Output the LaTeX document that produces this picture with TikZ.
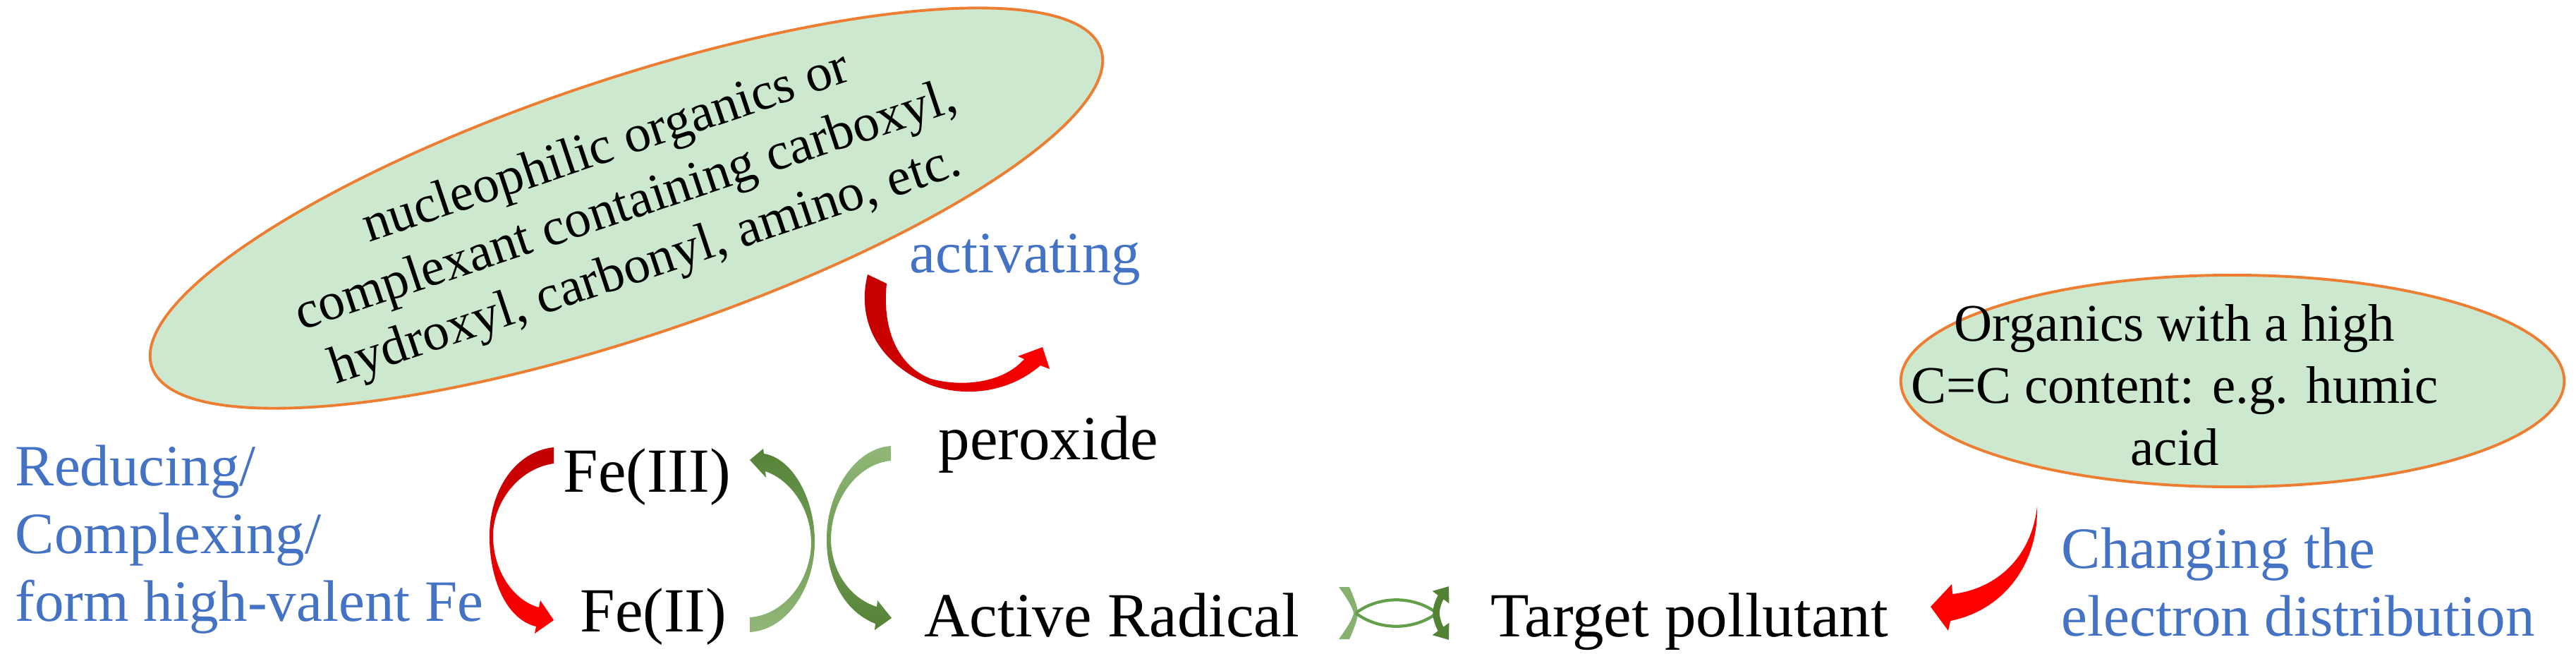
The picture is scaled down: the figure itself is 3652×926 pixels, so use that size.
\documentclass[tikz,border=0pt]{standalone}
\usepackage{fontspec}
\setmainfont{Liberation Serif}
\usetikzlibrary{arrows.meta,shapes.geometric}
\definecolor{ellfill}{RGB}{204,232,207}
\definecolor{ellline}{RGB}{237,125,49}
\definecolor{bluetxt}{RGB}{68,114,196}
\definecolor{darkred}{RGB}{192,0,0}
\definecolor{brightred}{RGB}{255,0,0}
\definecolor{darkgreen}{RGB}{84,130,53}
\definecolor{lightgreen}{RGB}{145,184,120}
\definecolor{midgreen}{RGB}{100,160,75}
\begin{document}
\begin{tikzpicture}[x={(0.01cm,0)}, y={(0,-0.01cm)},
  chem/.style={font=\fontsize{25.3}{30}\selectfont, inner sep=0pt, anchor=base west},
  note/.style={font=\fontsize{23.6}{27.3}\selectfont, text=bluetxt, inner sep=0pt, align=left},
  elltext/.style={font=\fontsize{21.3}{25}\selectfont, inner sep=0pt, align=center},
  bubble/.style={ellipse, fill=ellfill, draw=ellline, line width=1.1pt, inner sep=0pt}]
\useasboundingbox (0,0) rectangle (3652,926);

% big tilted ellipse
\node[bubble, elltext, rotate=18.5, minimum width=14.18cm, minimum height=3.64cm] (nuc) at (888,295)
  {nucleophilic organics or\\complexant containing carboxyl,\\hydroxyl, carbonyl, amino, etc.};

% small ellipse
\node[bubble, minimum width=9.4cm, minimum height=3.0cm] (humicbg) at (3165,540) {};
\node[elltext] (humic) at (3083,546) {Organics with a high\\C=C content: e.g. humic\\acid};

% texts
\node[note, anchor=west] (reduce) at (21,765) {Reducing/\\Complexing/\\form high-valent Fe};
\node[chem] (fe3) at (798,697) {Fe(III)};
\node[chem] (fe2) at (822,895) {Fe(II)};
\node[chem] (perox) at (1330,651) {peroxide};
\node[chem] (rad) at (1310,902) {Active Radical};
\node[chem] (target) at (2113,902) {Target pollutant};
\node[note, anchor=base west] (act) at (1289,386) {activating};
\node[note, anchor=west] (change) at (2922,825) {Changing the\\electron distribution};

% red arrow Fe(III) -> Fe(II)
\shade[top color=darkred, bottom color=brightred]
  (785,634) -- (785,657) .. controls (735,664) and (700,712) .. (699,757)
  .. controls (698,805) and (725,850) .. (764,861) -- (766,851) -- (785,879) -- (758,898) -- (760,888)
  .. controls (715,877) and (693,815) .. (694,757) .. controls (695,695) and (730,640) .. (785,634) -- cycle;

% activating arrow
\shade[left color=darkred, right color=brightred]
  (1230,389) .. controls (1215,450) and (1240,510) .. (1313,543)
  .. controls (1350,560) and (1420,565) .. (1475,518) -- (1488,523) -- (1478,492) -- (1443,505) -- (1452,509)
  .. controls (1420,545) and (1360,548) .. (1320,537) .. controls (1275,520) and (1250,470) .. (1257,402) -- cycle;

% green arrow Fe(II) -> Fe(III)
\shade[top color=darkgreen, bottom color=lightgreen]
  (1063,875) .. controls (1110,872) and (1149,825) .. (1150,770)
  .. controls (1150,720) and (1120,680) .. (1085,668) -- (1086,677) -- (1063,652) -- (1082,636) -- (1083,643)
  .. controls (1125,650) and (1156,710) .. (1155,770) .. controls (1154,835) and (1115,893) .. (1063,896) -- cycle;

% green arrow peroxide -> Active Radical
\shade[top color=lightgreen, bottom color=darkgreen]
  (1263,632) -- (1263,653) .. controls (1218,657) and (1179,705) .. (1178,763)
  .. controls (1178,810) and (1205,848) .. (1243,860) -- (1244,851) -- (1264,876) -- (1240,893) -- (1241,884)
  .. controls (1195,866) and (1171,815) .. (1172,763) .. controls (1172,700) and (1210,636) .. (1263,632) -- cycle;

% green exchange symbol between Active Radical and Target pollutant
\fill[lightgreen!85!darkgreen]
  (1898,832) -- (1913,832) .. controls (1921,850) and (1925,862) .. (1925,869)
  .. controls (1925,876) and (1921,888) .. (1913,906) -- (1898,906)
  .. controls (1911,888) and (1918,876) .. (1919,869) .. controls (1918,862) and (1911,850) .. (1898,832) -- cycle;
\draw[midgreen, line width=1.2pt] (1922,869) .. controls (1955,844) and (2004,844) .. (2037,869);
\draw[midgreen, line width=1.2pt] (1922,869) .. controls (1955,894) and (2004,894) .. (2037,869);
\draw[darkgreen, line width=2.7pt, {Triangle[width=8pt,length=5.5pt]}-{Triangle[width=8pt,length=5.5pt]}]
  (2054,831) .. controls (2040,850) and (2036,862) .. (2036,869) .. controls (2036,876) and (2040,888) .. (2054,907);

% red arrow from humic ellipse to Target pollutant
\fill[brightred]
  (2888,718) .. controls (2880,790) and (2830,835) .. (2768,842) -- (2767,828) -- (2737,860) -- (2762,894) -- (2765,880)
  .. controls (2840,865) and (2890,800) .. (2888,718) -- cycle;
\end{tikzpicture}
\end{document}
